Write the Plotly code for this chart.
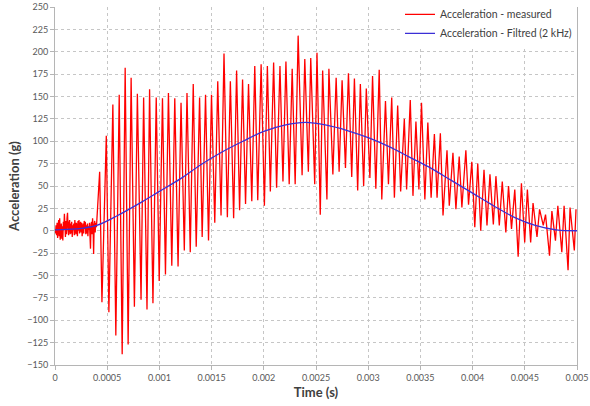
import plotly.graph_objects as go

# ---- measured signal: pre-trigger noise (time in ms, acceleration in g) ----
noise_t_ms = [0.000, 0.005, 0.010, 0.015, 0.020, 0.025, 0.030, 0.035, 0.040, 0.045,
              0.050, 0.055, 0.060, 0.065, 0.070, 0.075, 0.080, 0.085, 0.090, 0.095,
              0.100, 0.105, 0.110, 0.115, 0.120, 0.125, 0.130, 0.135, 0.140, 0.145,
              0.150, 0.155, 0.160, 0.165, 0.170, 0.175, 0.180, 0.185, 0.190, 0.195,
              0.200, 0.205, 0.210, 0.215, 0.220, 0.225, 0.230, 0.235, 0.240, 0.245,
              0.250, 0.255, 0.260, 0.265, 0.270, 0.275, 0.280, 0.285, 0.290, 0.295,
              0.300, 0.305, 0.310, 0.315, 0.320, 0.325, 0.330, 0.335, 0.340, 0.345,
              0.350, 0.355, 0.360, 0.365, 0.370, 0.375, 0.380, 0.385, 0.390, 0.397]
noise_g = [2, -3, 6, -5, 9, -8, 4, 12, -6, 14,
           -10, 3, 8, -9, 5, -11, 10, 2, 19, 6,
           -7, 11, -4, 14, 20, 3, -5, 9, 12, -4,
           8, -3, 10, -7, 6, 1, 8, -5, 12, 4,
           -4, 9, 2, -6, 11, 0, 12, -3, 5, 10,
           -2, 9, -6, 4, 8, -3, 11, 2, 10, -4,
           6, -3, 8, -6, 5, 1, 9, -8, -20, 7,
           10, -4, 14, 3, -26, 6, 11, -2, 9, 4]

# ---- measured signal: successive extremes of the oscillation ----
osc_t_ms = [0.4278, 0.4496, 0.4914, 0.5162, 0.5542, 0.5827, 0.6150, 0.6435, 0.6721, 0.7006,
            0.7291, 0.7605, 0.7890, 0.8241, 0.8489, 0.8812, 0.9059, 0.9382, 0.9696, 0.9981,
            1.0295, 1.0580, 1.0865, 1.1188, 1.1473, 1.1787, 1.2072, 1.2386, 1.2643, 1.2956,
            1.3241, 1.3527, 1.3850, 1.4097, 1.4420, 1.4705, 1.4990, 1.5304, 1.5589, 1.5903,
            1.6188, 1.6511, 1.6797, 1.7110, 1.7395, 1.7681, 1.7966, 1.8251, 1.8536, 1.8850,
            1.9135, 1.9420, 1.9743, 2.0057, 2.0342, 2.0627, 2.0941, 2.1226, 2.1549, 2.1835,
            2.2120, 2.2433, 2.2719, 2.3004, 2.3289, 2.3669, 2.3926, 2.4268, 2.4496, 2.4876,
            2.5095, 2.5409, 2.5637, 2.6046, 2.6236, 2.6616, 2.6930, 2.7215, 2.7500, 2.7823,
            2.8108, 2.8422, 2.8679, 2.8992, 2.9249, 2.9563, 2.9819, 3.0162, 3.0418, 3.0732,
            3.1055, 3.1302, 3.1654, 3.1939, 3.2253, 3.2510, 3.2823, 3.3108, 3.3460, 3.3679,
            3.4030, 3.4287, 3.4572, 3.4857, 3.5105, 3.5428, 3.5713, 3.6027, 3.6340, 3.6597,
            3.6911, 3.7167, 3.7548, 3.7766, 3.8118, 3.8403, 3.8717, 3.8973, 3.9354, 3.9610,
            3.9924, 4.0209, 4.0494, 4.0779, 4.1093, 4.1378, 4.1663, 4.1987, 4.2234, 4.2557,
            4.2842, 4.3184, 4.3441, 4.3726, 4.4040, 4.4363, 4.4677, 4.4990, 4.5247, 4.5561,
            4.5789, 4.6169, 4.6416, 4.6768, 4.6987, 4.7367, 4.7595, 4.7937, 4.8165, 4.8546,
            4.8764, 4.9144, 4.9335, 4.9743, 4.9905]
osc_g = [66, -80, 106, -91, 141, -117, 152, -138, 182, -127,
         171, -85, 153, -77, 149, -88, 158, -81, 149, -56,
         148, -49, 154, -39, 148, -40, 143, -22, 154, -24,
         164, -18, 149, -7, 152, -11, 152, 9, 167, 17,
         198, 15, 167, 14, 179, 23, 169, 30, 164, 33,
         184, 34, 186, 28, 184, 44, 188, 48, 184, 55,
         189, 52, 181, 52, 218, 62, 192, 66, 193, 52,
         199, 18, 179, 35, 181, 63, 171, 66, 168, 70,
         176, 60, 170, 45, 164, 50, 159, 59, 173, 47,
         180, 35, 145, 52, 149, 37, 140, 44, 125, 46,
         146, 39, 122, 46, 143, 35, 121, 37, 108, 37,
         109, 17, 90, 28, 87, 24, 83, 26, 90, 29,
         77, 4, 75, 0, 68, 6, 63, 7, 61, 6,
         55, -2, 50, 2, 46, -29, 53, -13, 46, -13,
         31, -7, 24, 6, 18, -28, 22, -11, 28, -24,
         28, -44, 26, -22, 24]

# ---- filtered signal (2 kHz) ----
filt_t_ms = [0.00, 0.20, 0.40, 0.60, 0.80, 1.00, 1.20, 1.40, 1.60, 1.80,
             2.00, 2.20, 2.40, 2.60, 2.80, 3.00, 3.20, 3.40, 3.60, 3.80,
             4.00, 4.20, 4.40, 4.60, 4.80, 5.00]
filt_g = [1, 2, 6, 17, 30, 44, 58, 74, 88, 100,
          111, 118, 121, 118, 112, 104, 94, 82, 70, 56,
          42, 28, 15, 6, 1, 0]

meas_t = [v / 1000 for v in noise_t_ms + osc_t_ms]
meas_g = noise_g + osc_g
filt_t = [v / 1000 for v in filt_t_ms]

x_ticks = [0, 0.0005, 0.001, 0.0015, 0.002, 0.0025, 0.003, 0.0035, 0.004, 0.0045, 0.005]
x_labels = ["0", "0.0005", "0.001", "0.0015", "0.002", "0.0025", "0.003",
            "0.0035", "0.004", "0.0045", "0.005"]
y_ticks = list(range(-150, 251, 25))

FONT = "Lato, 'Open Sans', sans-serif"

fig = go.Figure()
fig.add_trace(go.Scatter(x=meas_t, y=meas_g, mode="lines",
                         name="Acceleration - measured",
                         line=dict(color="#ff0000", width=1.3)))
fig.add_trace(go.Scatter(x=filt_t, y=filt_g, mode="lines",
                         name="Acceleration - Filtred (2 kHz)",
                         line=dict(color="#3b2fd6", width=1.3, shape="spline")))

fig.update_layout(
    width=590, height=406,
    margin=dict(l=55, r=13, t=7, b=41, autoexpand=False),
    paper_bgcolor="white", plot_bgcolor="white",
    font=dict(family=FONT, size=9, color="#595959"),
    showlegend=True,
    legend=dict(x=1, y=1.02, xanchor="right", yanchor="top",
                bgcolor="white", borderwidth=0,
                font=dict(family=FONT, size=10.5, color="#404040"),
                itemwidth=30, tracegroupgap=0),
)
fig.update_xaxes(
    range=[0, 0.005], tickvals=x_ticks, ticktext=x_labels,
    ticklabeloverflow="allow", automargin=False,
    showgrid=True, gridcolor="#c6c6c6", griddash="dot", gridwidth=1,
    showline=True, linecolor="#b5b5b5", linewidth=1,
    ticks="outside", ticklen=4, tickcolor="#b5b5b5",
    zeroline=False,
    title=dict(text="<b>Time (s)</b>", font=dict(family=FONT, size=13, color="#404040"),
               standoff=6),
)
fig.update_yaxes(
    range=[-150, 250], tickvals=y_ticks,
    ticklabeloverflow="allow", automargin=False,
    showgrid=True, gridcolor="#c6c6c6", griddash="dot", gridwidth=1,
    showline=True, linecolor="#b5b5b5", linewidth=1, mirror=True,
    ticks="outside", ticklen=4, tickcolor="#b5b5b5",
    zeroline=False,
    title=dict(text="<b>Acceleration (g)</b>", font=dict(family=FONT, size=13, color="#404040"),
               standoff=4),
)

fig.write_html("out.html")
